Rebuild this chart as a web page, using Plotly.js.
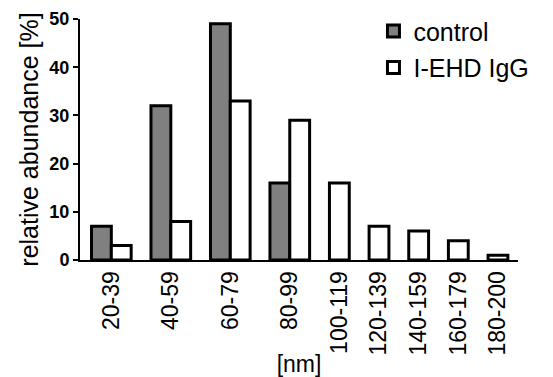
<!DOCTYPE html>
<html>
<head>
<meta charset="utf-8">
<script src="https://cdn.plot.ly/plotly-3.0.1.min.js"></script>
<style>html,body{margin:0;padding:0;background:#fff;}#chart{width:553px;height:377px;}</style>
</head>
<body>
<div id="chart"></div>
<script>
// Data
const categories = ['20-39','40-59','60-79','80-99','100-119','120-139','140-159','160-179','180-200'];
const controlValues = [7, 32, 49, 16, null, null, null, null, null];
const iggValues = [3, 8, 33, 29, 16, 7, 6, 4, 1];
const seriesNames = ['control', 'I-EHD IgG'];

// Layout of groups: groups with two bars take 3 bar-width slots, single-bar groups take 2
const centers = [];
const controlX = [], controlY = [], iggX = [], iggY = [];
let pos = 0;
categories.forEach((c, i) => {
  const both = controlValues[i] !== null && controlValues[i] !== undefined;
  const slots = both ? 3 : 2;
  const center = pos + slots / 2;
  centers.push(center);
  pos += slots;
  if (both) {
    controlX.push(center - 0.5); controlY.push(controlValues[i]);
    iggX.push(center + 0.5); iggY.push(iggValues[i]);
  } else {
    iggX.push(center); iggY.push(iggValues[i]);
  }
});

const FONT = 'Liberation Sans, Arial, Helvetica, sans-serif';
const traces = [
  {type: 'bar', name: seriesNames[0], x: controlX, y: controlY, width: 1,
   legendgroup: 'a',
   marker: {color: '#808080', line: {color: '#000', width: 3}}},
  {type: 'bar', name: seriesNames[1], x: iggX, y: iggY, width: 1,
   legendgroup: 'b',
   marker: {color: '#ffffff', line: {color: '#000', width: 3}}}
];

const layout = {
  width: 553, height: 377,
  margin: {l: 80, r: 35, t: 19, b: 117, autoexpand: false},
  paper_bgcolor: '#fff', plot_bgcolor: '#fff',
  barmode: 'overlay',
  font: {family: FONT, color: '#000'},
  xaxis: {
    range: [-0.08, pos + 0.01],
    tickvals: centers, ticktext: categories,
    tickangle: -90,
    tickfont: {size: 23, family: FONT},
    ticks: '', showgrid: false, zeroline: false,
    showline: true, linecolor: '#000', linewidth: 2,
    title: {text: '[nm]', font: {size: 23, family: FONT}, standoff: 6},
    automargin: false
  },
  yaxis: {
    range: [0, 50], tickvals: [0, 10, 20, 30, 40, 50],
    ticks: 'outside', ticklen: 5, tickwidth: 2, tickcolor: '#000',
    tickfont: {size: 18, family: FONT, weight: 'bold'},
    showgrid: false, zeroline: false,
    showline: true, linecolor: '#000', linewidth: 2,
    title: {text: 'relative abundance [%]', font: {size: 25, family: FONT}, standoff: 4},
    automargin: false
  },
  showlegend: true,
  legend: {
    x: 0.67, y: 1.045, xanchor: 'left', yanchor: 'top',
    font: {size: 25, family: FONT},
    traceorder: 'grouped', tracegroupgap: 1,
    bgcolor: 'rgba(0,0,0,0)', borderwidth: 0
  }
};

Plotly.newPlot('chart', traces, layout, {displayModeBar: false, staticPlot: true});
</script>
</body>
</html>
